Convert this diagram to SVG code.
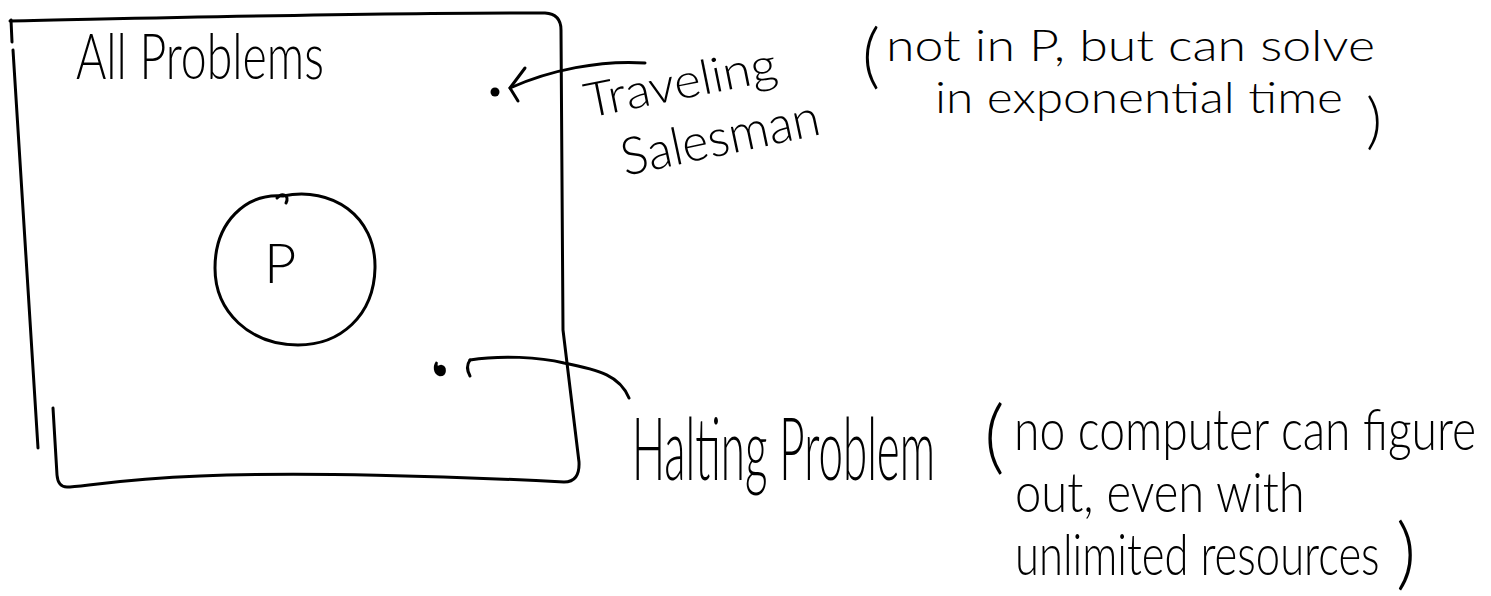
<svg xmlns="http://www.w3.org/2000/svg" width="1491" height="596" viewBox="0 0 1491 596">
  <style>
    .ink { fill: none; stroke: #000; stroke-width: 3; stroke-linecap: round; stroke-linejoin: round; }
    .hand { font-family: "Lato", "Liberation Sans", sans-serif; font-weight: 300; fill: #000; }
  </style>
  <rect width="1491" height="596" fill="#fff"/>

  <!-- outer set: all problems -->
  <g id="all-problems">
    <path class="ink" d="M11,20 L12,42"/>
    <path class="ink" d="M13,50 L38,448"/>
    <path class="ink" d="M10,21 C 200,17 400,12 545,13 Q 561,14 561,30 L 563,330 L 579,462 Q 580,482 564,482 C 450,476 300,472 200,476 C 120,479 80,487 67,487 Q 58,487 57,475 L 53,408"/>
    <text class="hand" transform="translate(76,79) scale(0.81,1.12)" x="0" y="0" font-size="56" textLength="306" lengthAdjust="spacingAndGlyphs">All Problems</text>
  </g>

  <!-- class P -->
  <g id="class-p">
    <path class="ink" d="M283,196 C 332,186 376,216 375,268 C 374,316 340,345 298,345 C 250,345 215,312 215,268 C 215,222 246,193 283,196"/>
    <path class="ink" d="M277,198 C 282,192 290,195 286,203"/>
    <text class="hand" x="264" y="283" font-size="56">P</text>
  </g>

  <!-- traveling salesman -->
  <g id="traveling-salesman">
    <circle cx="495" cy="92" r="4.5" fill="#000"/>
    <text class="hand" x="588" y="118" font-size="48" textLength="195" lengthAdjust="spacingAndGlyphs" transform="rotate(-11.4 588 118)">Traveling</text>
    <text class="hand" x="625" y="176" font-size="52" textLength="202" lengthAdjust="spacingAndGlyphs" transform="rotate(-12 625 176)">Salesman</text>
    <text class="hand" x="862" y="80" font-size="70">(</text>
    <text class="hand" x="886" y="61" font-size="43" textLength="489" lengthAdjust="spacingAndGlyphs">not in P, but can solve</text>
    <text class="hand" x="935" y="113" font-size="43" textLength="408" lengthAdjust="spacingAndGlyphs">in exponential time</text>
    <text class="hand" x="1366" y="142" font-size="62">)</text>
  </g>

  <!-- halting problem -->
  <g id="halting-problem">
    <path d="M437,362 C 434,366 434,373 440,375 C 446,375 446,367 441,366 C 438,366 437,369 439,371" fill="#000" stroke="#000" stroke-width="2.5"/>
    <text class="hand" transform="translate(632,480) scale(0.7,1.4)" x="0" y="0" font-size="62" textLength="433" lengthAdjust="spacingAndGlyphs">Halting Problem</text>
    <text class="hand" x="984" y="464" font-size="80">(</text>
    <text class="hand" transform="translate(1014,450) scale(0.93,1.15)" x="0" y="0" font-size="50" textLength="497" lengthAdjust="spacingAndGlyphs">no computer can figure</text>
    <text class="hand" transform="translate(1015,512) scale(0.95,1.1)" x="0" y="0" font-size="50" textLength="305" lengthAdjust="spacingAndGlyphs">out, even with</text>
    <text class="hand" transform="translate(1015,575) scale(0.86,1.15)" x="0" y="0" font-size="50" textLength="424" lengthAdjust="spacingAndGlyphs">unlimited resources</text>
    <text class="hand" x="1396" y="580" font-size="78">)</text>
  </g>

  <!-- connectors -->
  <g id="connectors">
    <path class="ink" d="M645,63 C 600,60 550,70 510,88"/>
    <path class="ink" d="M525,68 L510,88 L518,101"/>
    <path class="ink" d="M629,398 C 620,376 600,370 564,363 C 540,357 500,355 470,360"/>
    <path class="ink" d="M470,360 Q 465,367 470,376"/>
  </g>
</svg>
